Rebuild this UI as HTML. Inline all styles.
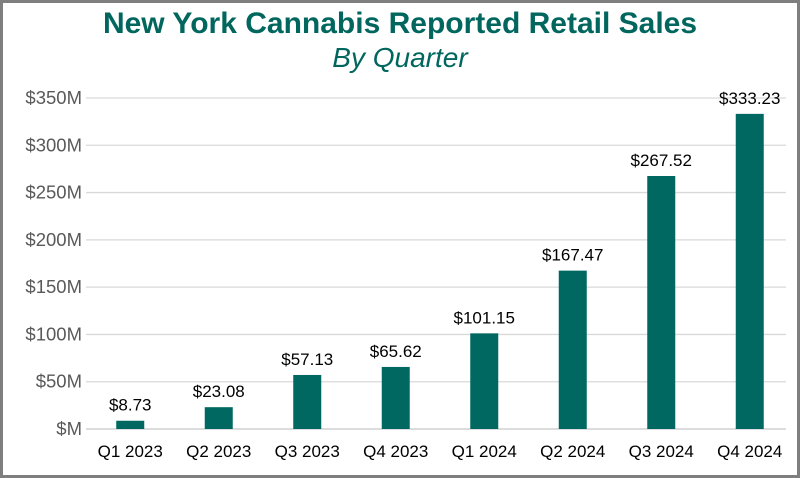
<!DOCTYPE html>
<html><head><meta charset="utf-8"><style>
html,body{margin:0;padding:0;background:#fff}
#wrap{position:relative;width:800px;height:478px;box-sizing:border-box;border:3px solid #7f7f7f;background:#fff;overflow:hidden}
svg{position:absolute;left:-3px;top:-3px}
</style></head><body>
<div id="wrap">
<svg id="chart" width="800" height="478" font-family="Liberation Sans, Arial, sans-serif">
<text x="400" y="33" text-anchor="middle" font-size="30" font-weight="bold" fill="#00665e">New York Cannabis Reported Retail Sales</text>
<text x="400" y="67" text-anchor="middle" font-size="28" font-style="italic" fill="#00665e">By Quarter</text>
</svg>
</div>
<script>
const categories=["Q1 2023","Q2 2023","Q3 2023","Q4 2023","Q1 2024","Q2 2024","Q3 2024","Q4 2024"];
const values=[8.73,23.08,57.13,65.62,101.15,167.47,267.52,333.23];
const valueLabels=["$8.73","$23.08","$57.13","$65.62","$101.15","$167.47","$267.52","$333.23"];
const ticks=[0,50,100,150,200,250,300,350];
const tickLabels=["$M","$50M","$100M","$150M","$200M","$250M","$300M","$350M"];
const NS="http://www.w3.org/2000/svg";
const svg=document.getElementById('chart');
const left=86,right=794,y0=429,yTop=98,maxV=350;
const band=(right-left)/categories.length,barW=28;
const y=v=>y0-(v/maxV)*(y0-yTop);
const x=i=>left+band*(i+0.5);
function mk(tag,attrs){const e=document.createElementNS(NS,tag);for(const k in attrs)e.setAttribute(k,attrs[k]);svg.appendChild(e);return e;}
ticks.forEach((t,i)=>{
  const g=mk('line',{x1:left,x2:right-8,y1:y(t),y2:y(t),stroke:i===0?'#c8c8c8':'#d9d9d9','stroke-width':1.3});
  
  
  const l=mk('text',{x:82,y:y(t)+6,'text-anchor':'end','font-size':18.5,fill:'#595959'});
  l.textContent=tickLabels[i];
  
  
});
categories.forEach((c,i)=>{
  const b=mk('rect',{x:x(i)-barW/2,y:y(values[i]),width:barW,height:y0-y(values[i]),fill:'#006861'});
  
  
  const v=mk('text',{x:x(i),y:y(values[i])-10,'text-anchor':'middle','font-size':17,fill:'#000'});
  v.textContent=valueLabels[i];
  
  
  const t=mk('text',{x:x(i),y:y0+28,'text-anchor':'middle','font-size':17,fill:'#000'});
  t.textContent=c;
  
  
});
</script>
</body></html>
